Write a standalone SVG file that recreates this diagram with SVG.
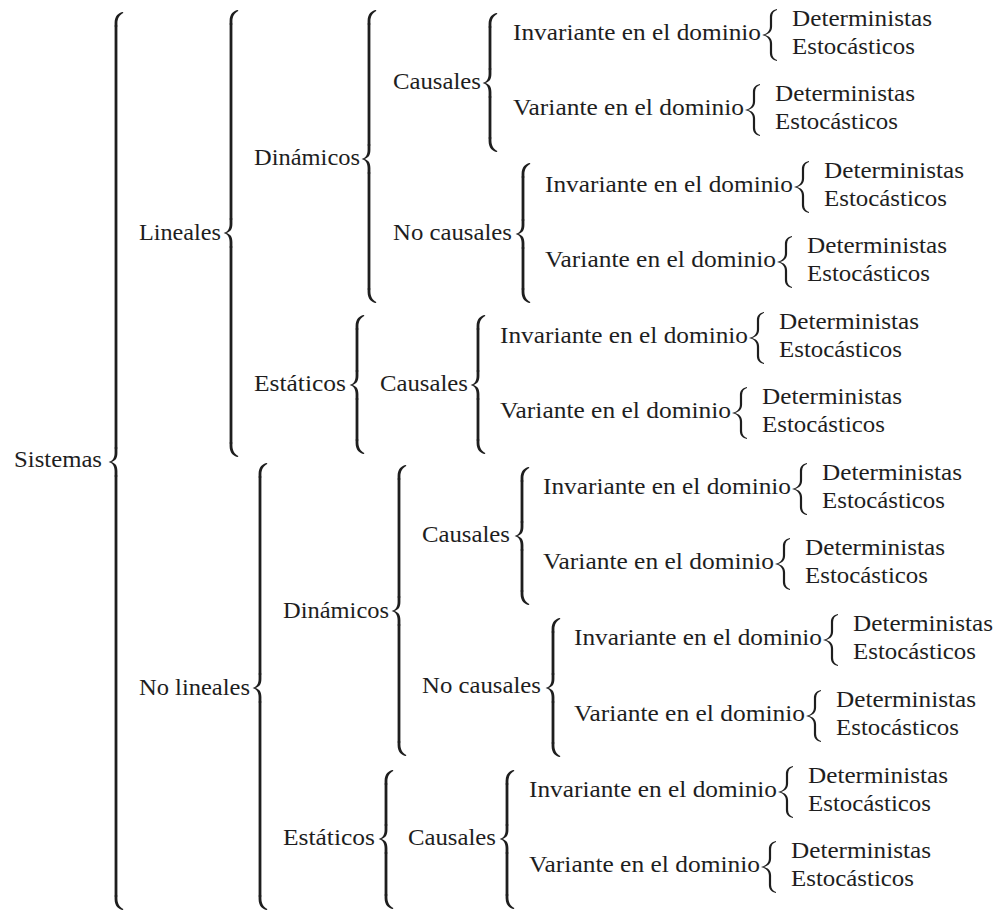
<svg xmlns="http://www.w3.org/2000/svg" width="1000" height="911" viewBox="0 0 1000 911">
<defs>
<path id="bt" d="M7,0 C2.6,0.6 -1.4,4 -1.4,11 L-1.4,14.5 L1.4,14.5 L1.4,11.5 C1.4,6.5 3.6,2.8 7.3,1.1 Z"/>
<path id="bm" d="M-1.4,-14.5 L-1.4,-9 C-1.4,-3.6 -3.8,-1 -7.4,0 C-3.8,1 -1.4,3.6 -1.4,9 L-1.4,14.5 L1.4,14.5 L1.4,9 C1.4,3.2 -1.2,0.7 -5,0 C-1.2,-0.7 1.4,-3.2 1.4,-9 L1.4,-14.5 Z"/>
<path id="sb" d="M6,-26 C1.6,-25.2 -1.1,-22.4 -1.1,-18 L-1.1,-8.5 C-1.1,-3.8 -4.5,-0.9 -9,0 C-4.5,0.9 -1.1,3.8 -1.1,8.5 L-1.1,18 C-1.1,22.4 1.6,25.2 6,26 L6,25 C3,24.2 1.1,21.8 1.1,18 L1.1,8.5 C1.1,3.3 -2.4,0.7 -6.6,0 C-2.4,-0.7 1.1,-3.3 1.1,-8.5 L1.1,-18 C1.1,-21.8 3,-24.2 6,-25 Z"/>
</defs>
<rect width="1000" height="911" fill="#ffffff"/>
<g id="connectors">
<g fill="#1e1e1e">
<use href="#bt" x="116" y="12"/><use href="#bm" x="116" y="462"/><use href="#bt" transform="translate(116,910) scale(1,-1)"/>
<use href="#bt" x="231" y="10"/><use href="#bm" x="231" y="233"/><use href="#bt" transform="translate(231,457) scale(1,-1)"/>
<use href="#bt" x="260" y="463"/><use href="#bm" x="260" y="688"/><use href="#bt" transform="translate(260,910) scale(1,-1)"/>
<use href="#bt" x="369" y="10"/><use href="#bm" x="369" y="159"/><use href="#bt" transform="translate(369,303) scale(1,-1)"/>
<use href="#bt" x="357" y="315"/><use href="#bm" x="357" y="385"/><use href="#bt" transform="translate(357,454) scale(1,-1)"/>
<use href="#bt" x="399" y="465"/><use href="#bm" x="399" y="611"/><use href="#bt" transform="translate(399,756) scale(1,-1)"/>
<use href="#bt" x="386" y="770"/><use href="#bm" x="386" y="839"/><use href="#bt" transform="translate(386,909) scale(1,-1)"/>
<use href="#bt" x="490" y="13"/><use href="#bm" x="490" y="83"/><use href="#bt" transform="translate(490,152) scale(1,-1)"/>
<use href="#bt" x="523" y="163"/><use href="#bm" x="523" y="234"/><use href="#bt" transform="translate(523,303) scale(1,-1)"/>
<use href="#bt" x="478" y="315"/><use href="#bm" x="478" y="385"/><use href="#bt" transform="translate(478,454) scale(1,-1)"/>
<use href="#bt" x="522" y="467"/><use href="#bm" x="522" y="536"/><use href="#bt" transform="translate(522,605) scale(1,-1)"/>
<use href="#bt" x="553" y="618"/><use href="#bm" x="553" y="688"/><use href="#bt" transform="translate(553,757) scale(1,-1)"/>
<use href="#bt" x="507" y="770"/><use href="#bm" x="507" y="839"/><use href="#bt" transform="translate(507,909) scale(1,-1)"/>
<use href="#sb" x="771" y="35"/><use href="#sb" x="754" y="110"/>
<use href="#sb" x="803" y="187"/><use href="#sb" x="786" y="262"/>
<use href="#sb" x="758" y="338"/><use href="#sb" x="741" y="413"/>
<use href="#sb" x="801" y="489"/><use href="#sb" x="784" y="564"/>
<use href="#sb" x="832" y="640"/><use href="#sb" x="815" y="716"/>
<use href="#sb" x="787" y="792"/><use href="#sb" x="770" y="867"/>
</g>
<path stroke="#1e1e1e" stroke-width="2.8" fill="none" d="M116,25.5 V448.5 M116,475.5 V896.5 M231,23.5 V219.5 M231,246.5 V443.5 M260,476.5 V674.5 M260,701.5 V896.5 M369,23.5 V145.5 M369,172.5 V289.5 M357,328.5 V371.5 M357,398.5 V440.5 M399,478.5 V597.5 M399,624.5 V742.5 M386,783.5 V825.5 M386,852.5 V895.5 M490,26.5 V69.5 M490,96.5 V138.5 M523,176.5 V220.5 M523,247.5 V289.5 M478,328.5 V371.5 M478,398.5 V440.5 M522,480.5 V522.5 M522,549.5 V591.5 M553,631.5 V674.5 M553,701.5 V743.5 M507,783.5 V825.5 M507,852.5 V895.5"/>
</g>
<g font-family="Liberation Serif" font-size="23.5" fill="#1e1e1e" lengthAdjust="spacingAndGlyphs">
<g id="sistemas"><text x="14" y="467" textLength="88" lengthAdjust="spacingAndGlyphs">Sistemas</text></g>
<g id="lineales"><text x="139" y="240" textLength="82" lengthAdjust="spacingAndGlyphs">Lineales</text></g>
<g id="no-lineales"><text x="139" y="695" textLength="111" lengthAdjust="spacingAndGlyphs">No lineales</text></g>
<g id="l-dinamicos"><text x="254" y="165" textLength="106" lengthAdjust="spacingAndGlyphs">Dinámicos</text></g>
<g id="l-estaticos"><text x="254" y="391" textLength="92" lengthAdjust="spacingAndGlyphs">Estáticos</text></g>
<g id="nl-dinamicos"><text x="283" y="618" textLength="106" lengthAdjust="spacingAndGlyphs">Dinámicos</text></g>
<g id="nl-estaticos"><text x="283" y="845" textLength="92" lengthAdjust="spacingAndGlyphs">Estáticos</text></g>
<g id="ld-causales"><text x="393" y="89" textLength="88" lengthAdjust="spacingAndGlyphs">Causales</text></g>
<g id="ld-nocausales"><text x="393" y="240" textLength="119" lengthAdjust="spacingAndGlyphs">No causales</text></g>
<g id="le-causales"><text x="380" y="391" textLength="88" lengthAdjust="spacingAndGlyphs">Causales</text></g>
<g id="nld-causales"><text x="422" y="542" textLength="88" lengthAdjust="spacingAndGlyphs">Causales</text></g>
<g id="nld-nocausales"><text x="422" y="693" textLength="119" lengthAdjust="spacingAndGlyphs">No causales</text></g>
<g id="nle-causales"><text x="408" y="845" textLength="88" lengthAdjust="spacingAndGlyphs">Causales</text></g>
<g id="ldc-inv"><text x="513" y="40" textLength="248" lengthAdjust="spacingAndGlyphs">Invariante en el dominio</text></g>
<g id="ldc-var"><text x="513" y="115" textLength="231" lengthAdjust="spacingAndGlyphs">Variante en el dominio</text></g>
<g id="ldnc-inv"><text x="545" y="192" textLength="248" lengthAdjust="spacingAndGlyphs">Invariante en el dominio</text></g>
<g id="ldnc-var"><text x="545" y="267" textLength="231" lengthAdjust="spacingAndGlyphs">Variante en el dominio</text></g>
<g id="lec-inv"><text x="500" y="343" textLength="248" lengthAdjust="spacingAndGlyphs">Invariante en el dominio</text></g>
<g id="lec-var"><text x="500" y="418" textLength="231" lengthAdjust="spacingAndGlyphs">Variante en el dominio</text></g>
<g id="nldc-inv"><text x="543" y="494" textLength="248" lengthAdjust="spacingAndGlyphs">Invariante en el dominio</text></g>
<g id="nldc-var"><text x="543" y="569" textLength="231" lengthAdjust="spacingAndGlyphs">Variante en el dominio</text></g>
<g id="nldnc-inv"><text x="574" y="645" textLength="248" lengthAdjust="spacingAndGlyphs">Invariante en el dominio</text></g>
<g id="nldnc-var"><text x="574" y="721" textLength="231" lengthAdjust="spacingAndGlyphs">Variante en el dominio</text></g>
<g id="nlec-inv"><text x="529" y="797" textLength="248" lengthAdjust="spacingAndGlyphs">Invariante en el dominio</text></g>
<g id="nlec-var"><text x="529" y="872" textLength="231" lengthAdjust="spacingAndGlyphs">Variante en el dominio</text></g>
<g id="ldc-inv-det"><text x="792" y="26" textLength="140" lengthAdjust="spacingAndGlyphs">Deterministas</text></g>
<g id="ldc-inv-est"><text x="792" y="54" textLength="123" lengthAdjust="spacingAndGlyphs">Estocásticos</text></g>
<g id="ldc-var-det"><text x="775" y="101" textLength="140" lengthAdjust="spacingAndGlyphs">Deterministas</text></g>
<g id="ldc-var-est"><text x="775" y="129" textLength="123" lengthAdjust="spacingAndGlyphs">Estocásticos</text></g>
<g id="ldnc-inv-det"><text x="824" y="178" textLength="140" lengthAdjust="spacingAndGlyphs">Deterministas</text></g>
<g id="ldnc-inv-est"><text x="824" y="206" textLength="123" lengthAdjust="spacingAndGlyphs">Estocásticos</text></g>
<g id="ldnc-var-det"><text x="807" y="253" textLength="140" lengthAdjust="spacingAndGlyphs">Deterministas</text></g>
<g id="ldnc-var-est"><text x="807" y="281" textLength="123" lengthAdjust="spacingAndGlyphs">Estocásticos</text></g>
<g id="lec-inv-det"><text x="779" y="329" textLength="140" lengthAdjust="spacingAndGlyphs">Deterministas</text></g>
<g id="lec-inv-est"><text x="779" y="357" textLength="123" lengthAdjust="spacingAndGlyphs">Estocásticos</text></g>
<g id="lec-var-det"><text x="762" y="404" textLength="140" lengthAdjust="spacingAndGlyphs">Deterministas</text></g>
<g id="lec-var-est"><text x="762" y="432" textLength="123" lengthAdjust="spacingAndGlyphs">Estocásticos</text></g>
<g id="nldc-inv-det"><text x="822" y="480" textLength="140" lengthAdjust="spacingAndGlyphs">Deterministas</text></g>
<g id="nldc-inv-est"><text x="822" y="508" textLength="123" lengthAdjust="spacingAndGlyphs">Estocásticos</text></g>
<g id="nldc-var-det"><text x="805" y="555" textLength="140" lengthAdjust="spacingAndGlyphs">Deterministas</text></g>
<g id="nldc-var-est"><text x="805" y="583" textLength="123" lengthAdjust="spacingAndGlyphs">Estocásticos</text></g>
<g id="nldnc-inv-det"><text x="853" y="631" textLength="140" lengthAdjust="spacingAndGlyphs">Deterministas</text></g>
<g id="nldnc-inv-est"><text x="853" y="659" textLength="123" lengthAdjust="spacingAndGlyphs">Estocásticos</text></g>
<g id="nldnc-var-det"><text x="836" y="707" textLength="140" lengthAdjust="spacingAndGlyphs">Deterministas</text></g>
<g id="nldnc-var-est"><text x="836" y="735" textLength="123" lengthAdjust="spacingAndGlyphs">Estocásticos</text></g>
<g id="nlec-inv-det"><text x="808" y="783" textLength="140" lengthAdjust="spacingAndGlyphs">Deterministas</text></g>
<g id="nlec-inv-est"><text x="808" y="811" textLength="123" lengthAdjust="spacingAndGlyphs">Estocásticos</text></g>
<g id="nlec-var-det"><text x="791" y="858" textLength="140" lengthAdjust="spacingAndGlyphs">Deterministas</text></g>
<g id="nlec-var-est"><text x="791" y="886" textLength="123" lengthAdjust="spacingAndGlyphs">Estocásticos</text></g>
</g>
</svg>
